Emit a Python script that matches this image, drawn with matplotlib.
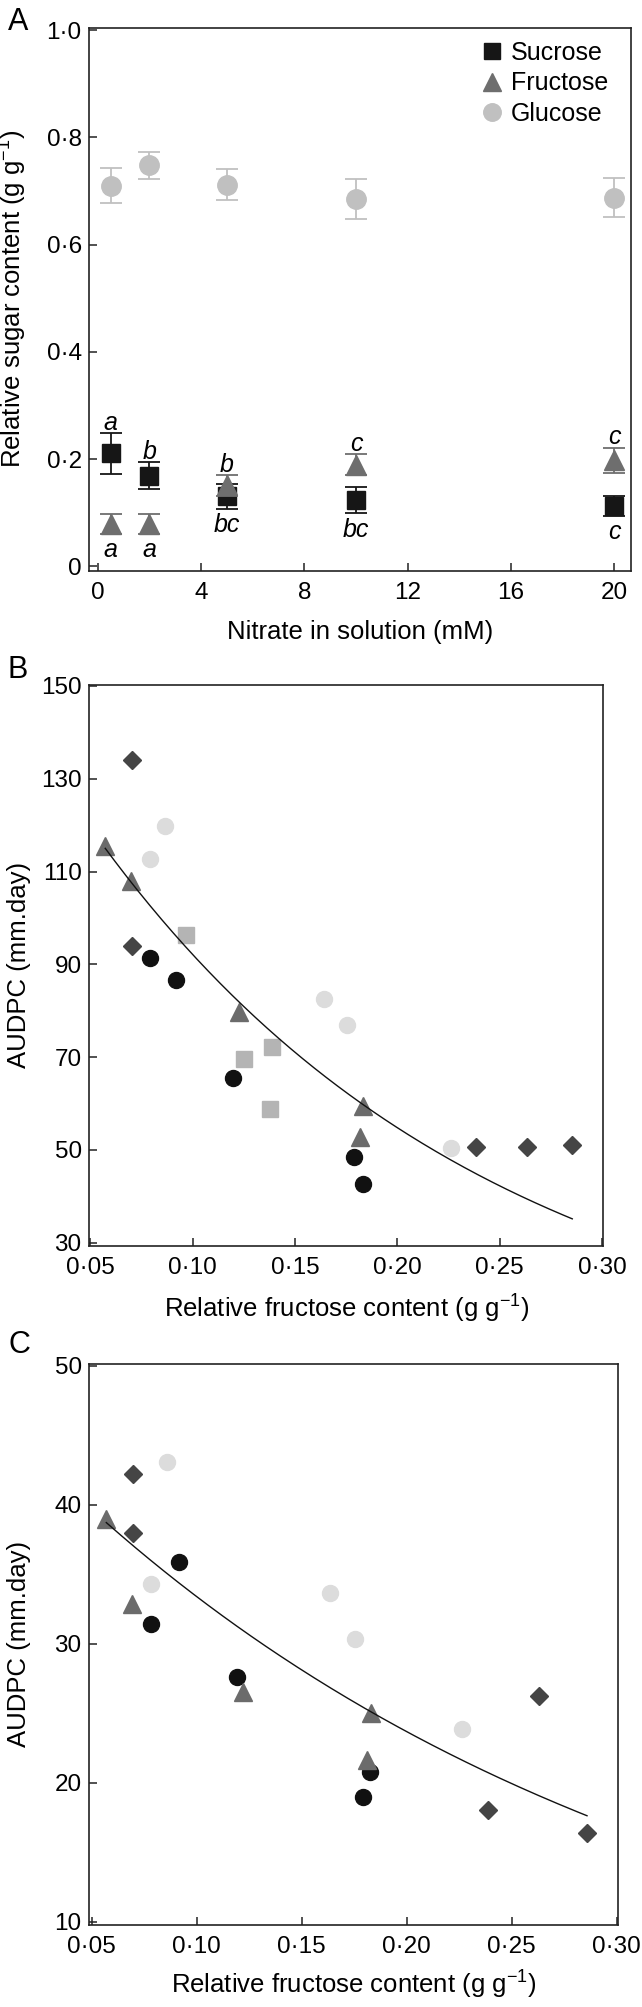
import numpy as np
import matplotlib
matplotlib.use('Agg')
import matplotlib.pyplot as plt
from matplotlib.ticker import FuncFormatter, FixedLocator

plt.rcParams['font.family'] = ['Liberation Sans', 'DejaVu Sans']
plt.rcParams['mathtext.fontset'] = 'custom'
plt.rcParams['mathtext.rm'] = 'Liberation Sans'
plt.rcParams['mathtext.it'] = 'Liberation Sans:italic'
plt.rcParams['mathtext.default'] = 'regular'

# ---------------- Panel A data ----------------
nitrate = [0.5, 2, 5, 10, 20]
sucrose = [0.211, 0.169, 0.131, 0.124, 0.113]
sucrose_err = [0.038, 0.025, 0.023, 0.025, 0.018]
fructose = [0.079, 0.079, 0.151, 0.190, 0.198]
fructose_err = [0.018, 0.018, 0.020, 0.020, 0.0235]
glucose = [0.710, 0.748, 0.712, 0.685, 0.688]
glucose_err = [0.033, 0.025, 0.029, 0.037, 0.036]
sucrose_letters = ['a', 'b', 'bc', 'bc', 'c']
fructose_letters = ['a', 'a', 'b', 'c', 'c']

# ---------------- Panel B data (AUDPC vs relative fructose) ----------------
B_black_x = [0.0792, 0.092, 0.1196, 0.179, 0.183]
B_black_y = [91.3, 86.7, 65.6, 48.5, 42.6]
B_light_x = [0.0864, 0.079, 0.164, 0.1752, 0.226]
B_light_y = [119.9, 112.8, 82.6, 76.9, 50.5]
B_square_x = [0.097, 0.125, 0.139, 0.138]
B_square_y = [96.4, 69.6, 72.1, 58.9]
B_tri_x = [0.0574, 0.070, 0.1226, 0.183, 0.1816]
B_tri_y = [115.6, 107.9, 79.7, 59.5, 52.8]
B_dia_x = [0.0704, 0.0704, 0.2386, 0.2632, 0.2854]
B_dia_y = [134.0, 94.0, 50.7, 50.7, 51.0]
fit_B = (155.0, -5.20)   # y = a * exp(b * x)

# ---------------- Panel C data ----------------
C_black_x = [0.0914, 0.0785, 0.1191, 0.1828, 0.1791]
C_black_y = [35.86, 31.4, 27.6, 20.76, 18.93]
C_light_x = [0.0857, 0.0785, 0.1637, 0.1754, 0.2262]
C_light_y = [43.07, 34.3, 33.65, 30.36, 23.83]
C_tri_x = [0.057, 0.0691, 0.122, 0.183, 0.1813]
C_tri_y = [39.0, 32.85, 26.5, 25.0, 21.6]
C_dia_x = [0.0699, 0.0699, 0.2387, 0.2631, 0.2859]
C_dia_y = [42.2, 37.97, 18.0, 26.2, 16.4]
fit_C = (47.1, -3.44)

# ---------------- styles ----------------
c_suc, c_fru, c_glu = '#161616', '#6e6e6e', '#c0c0c0'
c_black, c_light, c_square, c_tri, c_dia = '#111111', '#dcdcdc', '#b4b4b4', '#6b6b6b', '#454545'
TICK_FS = 17.5
LABEL_FS = 18.5

W, H = 642, 2007
fig = plt.figure(figsize=(W / 100, H / 100), dpi=100)


def px_axes(left, top, right, bottom):
    return fig.add_axes([left / W, 1 - bottom / H, (right - left) / W, (bottom - top) / H])


def dot_fmt(decimals, zero_plain=False):
    def f(v, pos):
        if zero_plain and abs(v) < 1e-9:
            return '0'
        return f'{v:.{decimals}f}'.replace('.', '\u00b7')
    return FuncFormatter(f)


def style_axes(ax, xpad):
    for s in ax.spines.values():
        s.set_linewidth(1.2)
        s.set_color('#222222')
    ax.tick_params(direction='in', length=6, width=1.1, labelsize=TICK_FS, color='#222222')
    ax.tick_params(axis='x', pad=xpad)
    ax.tick_params(axis='y', pad=5.5)


def place_xlabel(ax, text, y_baseline):
    ax.set_xlabel(text, fontsize=LABEL_FS)
    ax.xaxis.label.set_verticalalignment('baseline')
    ax.xaxis.set_label_coords(0.5, y_baseline)


axA = px_axes(89.3, 27.5, 630.7, 570.5)
axB = px_axes(89.3, 684.6, 603.2, 1245.8)
axC = px_axes(89.3, 1363.7, 618.3, 1924.6)

# ---------------- Panel A ----------------
eb_kw = dict(fmt='none', capsize=8, elinewidth=1.3, capthick=1.3)
axA.errorbar(nitrate, glucose, yerr=glucose_err, ecolor=c_glu, zorder=2, **eb_kw)
axA.plot(nitrate, glucose, ls='none', marker='o', ms=14, color=c_glu, mec=c_glu, label='Glucose', zorder=3)
axA.errorbar(nitrate, sucrose, yerr=sucrose_err, ecolor=c_suc, zorder=4, **eb_kw)
axA.plot(nitrate, sucrose, ls='none', marker='s', ms=13.5, color=c_suc, mec=c_suc, label='Sucrose', zorder=5)
axA.errorbar(nitrate, fructose, yerr=fructose_err, ecolor=c_fru, zorder=6, **eb_kw)
axA.plot(nitrate, fructose, ls='none', marker='^', ms=14, color=c_fru, mec=c_fru, label='Fructose', zorder=7)

for i, x in enumerate(nitrate):
    if sucrose[i] > fructose[i]:
        top_txt, top_y = sucrose_letters[i], sucrose[i] + sucrose_err[i]
        bot_txt, bot_y = fructose_letters[i], fructose[i] - fructose_err[i]
    else:
        top_txt, top_y = fructose_letters[i], fructose[i] + fructose_err[i]
        bot_txt, bot_y = sucrose_letters[i], sucrose[i] - sucrose_err[i]
    axA.text(x, top_y + 0.006, top_txt, ha='center', va='baseline', fontsize=18, style='italic', zorder=8)
    axA.text(x, bot_y - 0.008, bot_txt, ha='center', va='top', fontsize=18, style='italic', zorder=8)

axA.set_xlim(-0.33, 20.63)
axA.set_ylim(-0.0075, 1.005)
axA.xaxis.set_major_locator(FixedLocator([0, 4, 8, 12, 16, 20]))
axA.yaxis.set_major_locator(FixedLocator([0, 0.2, 0.4, 0.6, 0.8, 1.0]))
axA.yaxis.set_major_formatter(dot_fmt(1, zero_plain=True))
axA.xaxis.set_major_formatter(dot_fmt(0))
style_axes(axA, 8)
place_xlabel(axA, 'Nitrate in solution (mM)', -0.1267)
axA.set_ylabel('Relative sugar content (g g$^{-1}$)', fontsize=LABEL_FS)
axA.yaxis.set_label_coords(-0.111, 0.5)

h, l = axA.get_legend_handles_labels()
order = [l.index('Sucrose'), l.index('Fructose'), l.index('Glucose')]
axA.legend([h[k] for k in order], [l[k] for k in order], loc='upper right',
           bbox_to_anchor=(0.958, 0.975), frameon=False, fontsize=18, borderpad=0,
           borderaxespad=0, handlelength=1.0, handletextpad=0.25, labelspacing=0.25,
           markerscale=0.9)

# ---------------- Panel B ----------------
def scatter_panel(ax, sets, fit, xs_all):
    for x, y, m, ms, col in sets:
        ax.plot(x, y, ls='none', marker=m, ms=ms, color=col, mec=col, zorder=3)
    a, b = fit
    xx = np.linspace(min(xs_all), max(xs_all), 200)
    ax.plot(xx, a * np.exp(b * xx), color='#111111', lw=1.0, zorder=4)


sets_B = [
    (B_light_x, B_light_y, 'o', 11.5, c_light),
    (B_square_x, B_square_y, 's', 11.5, c_square),
    (B_black_x, B_black_y, 'o', 11.5, c_black),
    (B_tri_x, B_tri_y, '^', 12.5, c_tri),
    (B_dia_x, B_dia_y, 'D', 9.3, c_dia),
]
scatter_panel(axB, sets_B, fit_B, B_black_x + B_light_x + B_square_x + B_tri_x + B_dia_x)
axB.set_xlim(0.0496, 0.3005)
axB.set_ylim(29.33, 150.3)
axB.xaxis.set_major_locator(FixedLocator([0.05, 0.10, 0.15, 0.20, 0.25, 0.30]))
axB.yaxis.set_major_locator(FixedLocator([30, 50, 70, 90, 110, 130, 150]))
axB.xaxis.set_major_formatter(dot_fmt(2))
axB.yaxis.set_major_formatter(dot_fmt(0))
style_axes(axB, 8)
place_xlabel(axB, 'Relative fructose content (g g$^{-1}$)', -0.1274)
axB.set_ylabel('AUDPC (mm.day)', fontsize=LABEL_FS)
axB.yaxis.set_label_coords(-0.114, 0.5)

# ---------------- Panel C ----------------
sets_C = [
    (C_light_x, C_light_y, 'o', 11.5, c_light),
    (C_black_x, C_black_y, 'o', 11.5, c_black),
    (C_tri_x, C_tri_y, '^', 12.5, c_tri),
    (C_dia_x, C_dia_y, 'D', 9.3, c_dia),
]
scatter_panel(axC, sets_C, fit_C, C_black_x + C_light_x + C_tri_x + C_dia_x)
axC.set_xlim(0.0489, 0.3008)
axC.set_ylim(9.78, 50.15)
axC.xaxis.set_major_locator(FixedLocator([0.05, 0.10, 0.15, 0.20, 0.25, 0.30]))
axC.yaxis.set_major_locator(FixedLocator([10, 20, 30, 40, 50]))
axC.xaxis.set_major_formatter(dot_fmt(2))
axC.yaxis.set_major_formatter(dot_fmt(0))
style_axes(axC, 8)
place_xlabel(axC, 'Relative fructose content (g g$^{-1}$)', -0.1237)
axC.set_ylabel('AUDPC (mm.day)', fontsize=LABEL_FS)
axC.yaxis.set_label_coords(-0.111, 0.5)

# panel letters
for letter, top in [('A', 7), ('B', 655), ('C', 1330)]:
    fig.text(8 / W, 1 - top / H, letter, fontsize=22, ha='left', va='top')

fig.savefig('out.png', dpi=100)
